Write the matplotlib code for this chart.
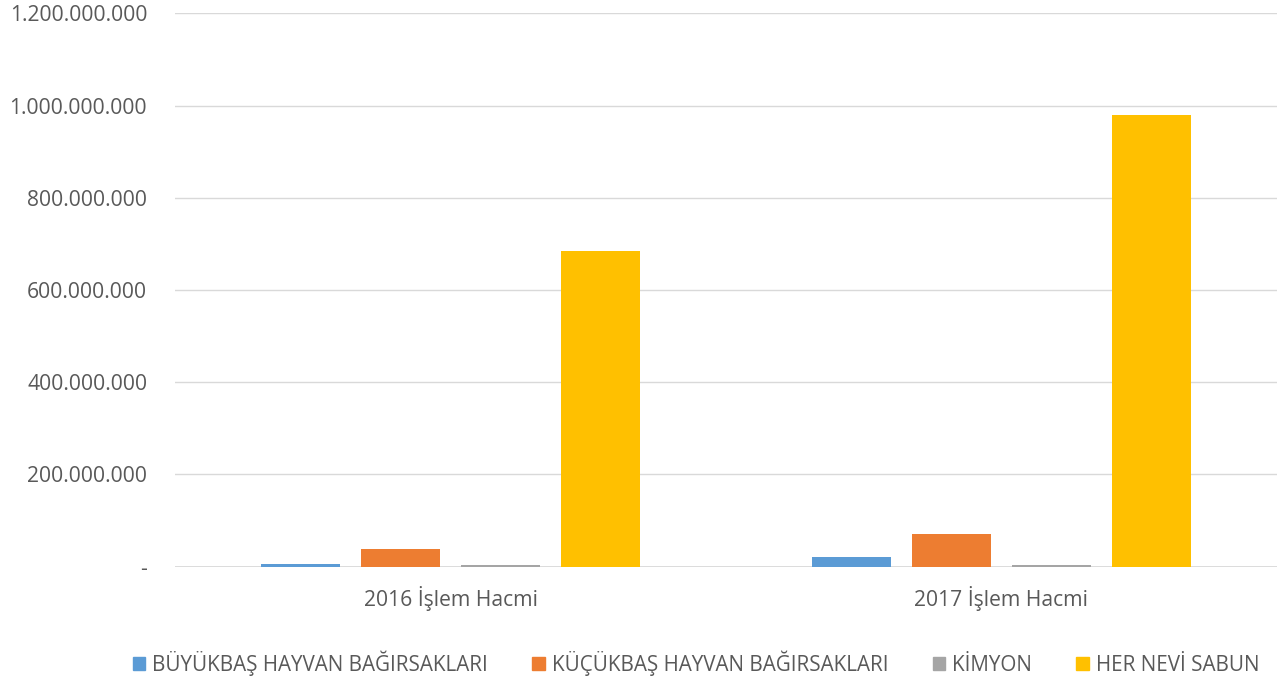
import matplotlib.pyplot as plt
import matplotlib.patches as mpatches
from matplotlib.ticker import FuncFormatter
import numpy as np

plt.rcParams['font.family'] = ['Open Sans', 'DejaVu Sans']

categories = ["2016 İşlem Hacmi", "2017 İşlem Hacmi"]
series_names = ["BÜYÜKBAŞ HAYVAN BAĞIRSAKLARI", "KÜÇÜKBAŞ HAYVAN BAĞIRSAKLARI",
                "KİMYON", "HER NEVİ SABUN"]
buyukbas = [6.5e6, 22e6]
kucukbas = [38e6, 71e6]
kimyon = [3e6, 3.5e6]
sabun = [684e6, 980e6]
colors = ["#5b9bd5", "#ed7d31", "#a5a5a5", "#ffc000"]

values = [buyukbas, kucukbas, kimyon, sabun]

fig = plt.figure(figsize=(12.84, 6.8), dpi=100)
ax = fig.add_axes([175 / 1284, 1 - 566.7 / 680, 1102 / 1284, 553.4 / 680])

x = np.arange(len(categories))
pitch = 100 / 551
width = 78.5 / 551
for i, (name, vals) in enumerate(zip(series_names, values)):
    ax.bar(x + (i - 1.5) * pitch, vals, width, color=colors[i], label=name, zorder=3)

ax.set_xlim(-0.5, 1.5)
ax.set_ylim(0, 1.2e9)
ax.set_yticks(np.arange(0, 1.2e9 + 1, 2e8))


def fmt(v, pos):
    if v == 0:
        return "-"
    return f"{int(v):,}".replace(",", ".")


ax.yaxis.set_major_formatter(FuncFormatter(fmt))
ax.set_xticks(x)
ax.set_xticklabels(categories)
ax.tick_params(axis='both', length=0, labelsize=15.2, labelcolor="#595959")
ax.tick_params(axis='y', pad=20)
ax.tick_params(axis='x', pad=14)
ax.grid(axis='y', color="#d9d9d9", linewidth=1, zorder=0)
for s in ax.spines.values():
    s.set_visible(False)
ax.axhline(0, color="#d9d9d9", linewidth=2, zorder=2)

handles = [mpatches.Patch(color=c) for c in colors]
fig.legend(handles, series_names, loc='center left', bbox_to_anchor=(133 / 1284, 1 - 663 / 680),
           ncol=4, frameon=False, fontsize=14.9, labelcolor="#595959",
           handlelength=0.6, handleheight=0.6, handletextpad=0.33, columnspacing=2.15,
           borderpad=0, borderaxespad=0)

fig.savefig("out.png", dpi=100)
